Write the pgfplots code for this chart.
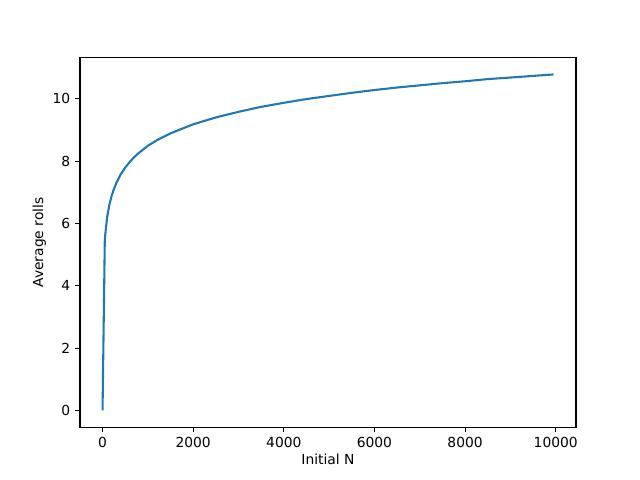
\documentclass[border=0pt]{standalone}
\usepackage{fontspec}
\setmainfont{DejaVu Sans}
\usepackage{pgfplots}
\pgfplotsset{compat=1.18}
\definecolor{mplBlue}{HTML}{1f77b4}

\begin{document}
\begin{tikzpicture}
\path[use as bounding box] (-0.8in,-0.528in) rectangle (5.6in,4.272in);
\begin{axis}[
  at={(0,0)}, anchor=south west, scale only axis,
  width=4.96in, height=3.696in,
  xmin=-497.5, xmax=10447.5, ymin=-0.539, ymax=11.32,
  xtick={0,2000,4000,6000,8000,10000}, ytick={0,2,4,6,8,10},
  xtick pos=bottom, ytick pos=left, tick align=outside,
  major tick length=3.5pt, tick style={black, line width=0.8pt},
  axis line style={line width=0.8pt},
  scaled x ticks=false,
  /pgf/number format/1000 sep={},
  /pgf/number format/assume math mode=true,
  ticklabel style={font=\fontsize{10}{12}\selectfont},
  label style={font=\fontsize{10}{12}\selectfont},
  xlabel={Initial N}, ylabel={Average rolls},
  xlabel style={yshift=2pt}, ylabel style={yshift=-2pt}]
\addplot[mplBlue, line width=1.5pt, no marks, line join=round] coordinates {
(0,0) (50,5.50) (100,6.19) (150,6.59) (200,6.88) (250,7.10) (300,7.28)
(400,7.57) (500,7.79) (600,7.97) (700,8.13) (800,8.26) (1000,8.49)
(1200,8.67) (1500,8.89) (2000,9.18) (2500,9.40) (3000,9.58) (3500,9.74)
(4000,9.87) (4500,9.99) (5000,10.09) (5500,10.19) (6000,10.28) (6500,10.36)
(7000,10.43) (7500,10.50) (8000,10.56) (8500,10.63) (9000,10.68) (9950,10.78)
};
\end{axis}
\end{tikzpicture}
\end{document}
